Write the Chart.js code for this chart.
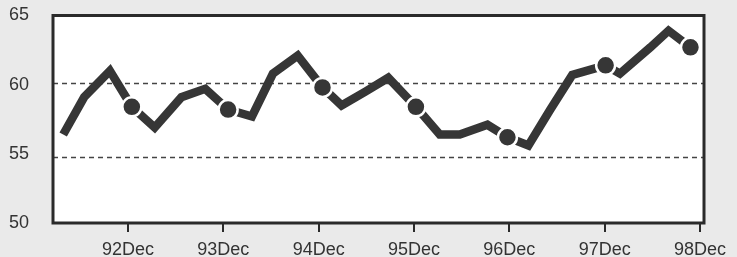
<!DOCTYPE html>
<html>
<head>
<meta charset="utf-8">
<script src="https://cdn.jsdelivr.net/npm/chart.js@4/dist/chart.umd.min.js"></script>
<style>
  html, body { margin: 0; padding: 0; background: #eaeaea; }
  #wrap { width: 737px; height: 257px; }
</style>
</head>
<body>
<div id="wrap"><canvas id="c" width="737" height="257"></canvas></div>
<script>
// x positions in "year" units, where 92 = Dec 1992, 93 = Dec 1993, ...
const xValues = [91.32, 91.54, 91.81, 92.04, 92.28, 92.56, 92.81, 93.05, 93.30, 93.52,
                 93.78, 94.04, 94.24, 94.49, 94.73, 95.02, 95.27, 95.48, 95.77, 95.98,
                 96.20, 96.43, 96.66, 97.01, 97.16, 97.48, 97.67, 97.90];
const yValues = [56.4, 59.1, 61.0, 58.4, 56.9, 59.1, 59.7, 58.2, 57.7, 60.8,
                 62.1, 59.8, 58.5, 59.5, 60.5, 58.4, 56.4, 56.4, 57.1, 56.2,
                 55.6, 58.2, 60.7, 61.4, 60.8, 62.7, 63.9, 62.7];
const markerIndex = [3, 7, 11, 15, 19, 23, 27];
const xTickValues = [92, 93, 94, 95, 96, 97, 98];
const xTickLabels = ['92Dec', '93Dec', '94Dec', '95Dec', '96Dec', '97Dec', '98Dec'];
const yTickValues = [50, 55, 60, 65];
const refLines = [60.1, 54.8];

const INK = '#363636';
const TEXT = '#333333';

const points = xValues.map((x, i) => ({ x: x, y: yValues[i] }));

const framePlugin = {
  id: 'frame',
  beforeDraw(chart) {
    const { ctx, chartArea: a } = chart;
    ctx.save();
    ctx.fillStyle = '#ffffff';
    ctx.fillRect(a.left, a.top, a.right - a.left, a.bottom - a.top);
    ctx.restore();
  },
  beforeDatasetsDraw(chart) {
    const { ctx, chartArea: a, scales } = chart;
    ctx.save();
    ctx.strokeStyle = '#444444';
    ctx.lineWidth = 1.5;
    ctx.setLineDash([5, 4]);
    refLines.forEach(v => {
      const y = Math.round(scales.y.getPixelForValue(v)) + 0.5;
      ctx.beginPath();
      ctx.moveTo(a.left, y);
      ctx.lineTo(a.right, y);
      ctx.stroke();
    });
    ctx.restore();
  },
  afterDraw(chart) {
    const { ctx, chartArea: a } = chart;
    ctx.save();
    ctx.strokeStyle = '#2a2a2a';
    ctx.lineWidth = 3;
    ctx.strokeRect(a.left, a.top, a.right - a.left, a.bottom - a.top);
    ctx.restore();
  }
};

new Chart(document.getElementById('c'), {
  type: 'line',
  data: {
    datasets: [{
      data: points,
      borderColor: INK,
      borderWidth: 8.5,
      borderJoinStyle: 'miter',
      borderCapStyle: 'butt',
      tension: 0,
      fill: false,
      pointRadius: ctx => markerIndex.includes(ctx.dataIndex) ? 9.5 : 0,
      pointBackgroundColor: INK,
      pointBorderColor: '#ffffff',
      pointBorderWidth: 2.5,
      pointHoverRadius: 0
    }]
  },
  options: {
    responsive: false,
    animation: false,
    devicePixelRatio: 1,
    events: [],
    layout: { autoPadding: false, padding: { top: 0, right: 33, left: 0, bottom: 0 } },
    plugins: { legend: { display: false }, tooltip: { enabled: false } },
    scales: {
      x: {
        type: 'linear',
        min: 91.213,
        max: 98.042,
        afterBuildTicks: s => { s.ticks = xTickValues.map(v => ({ value: v })); },
        afterFit: s => { s.height = 34; },
        border: { display: false },
        grid: { drawOnChartArea: false, drawTicks: true, tickLength: 9, tickColor: '#2a2a2a', lineWidth: 2 },
        ticks: {
          autoSkip: false,
          maxRotation: 0,
          padding: 7,
          color: TEXT,
          font: { family: 'Liberation Sans', size: 18 },
          callback: v => xTickLabels[xTickValues.indexOf(v)]
        }
      },
      y: {
        min: 50,
        max: 65,
        afterBuildTicks: s => { s.ticks = yTickValues.map(v => ({ value: v })); },
        afterFit: s => { s.width = 53; s.paddingTop = 15.5; s.paddingBottom = 0; },
        border: { display: false },
        grid: { display: false, drawTicks: false },
        ticks: {
          padding: 24,
          color: TEXT,
          font: { family: 'Liberation Sans', size: 18 }
        }
      }
    }
  },
  plugins: [framePlugin]
});
</script>
</body>
</html>
